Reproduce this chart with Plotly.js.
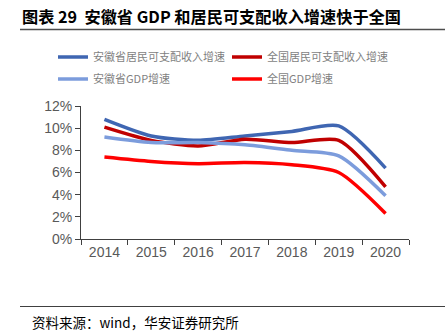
<!DOCTYPE html>
<html><head><meta charset="utf-8">
<script src="https://cdn.plot.ly/plotly-3.0.1.min.js"></script>
<style>html,body{margin:0;padding:0;background:#fff}#c{width:445px;height:333px}</style>
</head><body><div id="c"></div>
<script>
var years = ['2014','2015','2016','2017','2018','2019','2020'];
var anhuiIncome = [10.8, 9.3, 8.9, 9.3, 9.7, 10.2, 6.4];
var chinaIncome = [10.1, 8.9, 8.4, 9.0, 8.7, 8.9, 4.7];
var anhuiGDP = [9.2, 8.7, 8.7, 8.5, 8.0, 7.5, 3.9];
var chinaGDP = [7.4, 7.0, 6.8, 6.9, 6.7, 6.0, 2.3];
var names = ['安徽省居民可支配收入增速','全国居民可支配收入增速','安徽省GDP增速','全国GDP增速'];
var colors = ['#3F66B2','#C00000','#7C9CDC','#FF0000'];
var series = [anhuiIncome, chinaIncome, anhuiGDP, chinaGDP];
var legendIds = ['legend','legend2','legend3','legend4'];
var traces = series.map(function(s,i){
  return {x: years, y: s, type:'scatter', mode:'lines', name: names[i],
    line:{color:colors[i], width:3.5, shape:'spline', smoothing:0.7},
    legend: legendIds[i], hoverinfo:'skip'};
});
var W = 445, H = 333, L = 81, R = 36, T = 106, B = 94;
var pw = W - L - R, ph = H - T - B;
function px(x){ return (x - L) / pw; }
function py(y){ return (H - B - y) / ph; }
var legFont = {family:'Noto Sans CJK SC, sans-serif', size:11, color:'#7f7f7f'};
function leg(x, y){
  return {orientation:'v', x:px(x), xanchor:'left', y:py(y), yanchor:'middle',
    font:legFont, bgcolor:'rgba(0,0,0,0)', borderwidth:0};
}
var layout = {
  width:W, height:H,
  margin:{l:L, r:R, t:T, b:B},
  paper_bgcolor:'#fff', plot_bgcolor:'#fff',
  showlegend:true,
  legend: leg(53, 57), legend2: leg(227, 57), legend3: leg(53, 79), legend4: leg(227, 79),
  xaxis:{type:'category', range:[-0.5,6.5], tickson:'boundaries', ticks:'outside', ticklen:5,
    tickcolor:'#404040', showline:true, linecolor:'#404040', linewidth:1, showgrid:false, zeroline:false,
    tickfont:{family:'Liberation Sans, Arial, sans-serif', size:14, color:'#595959'}, fixedrange:true},
  yaxis:{range:[0,12], dtick:2, ticksuffix:'%', ticks:'outside', ticklen:5, tickcolor:'#404040',
    showline:true, linecolor:'#404040', linewidth:1, showgrid:false, zeroline:false,
    tickfont:{family:'Liberation Sans, Arial, sans-serif', size:14, color:'#595959'}, fixedrange:true},
  title:{text:'<b>图表 29  安徽省 GDP 和居民可支配收入增速快于全国</b>', x:22/W, xref:'container', xanchor:'left',
    y:1 - 17/H, yref:'container', yanchor:'middle', font:{family:'Noto Sans CJK SC, sans-serif', size:16.2, color:'#000'}},
  shapes:[
    {type:'line', xref:'paper', yref:'paper', layer:'above', x0:px(20), x1:px(445), y0:py(29.5), y1:py(29.5), line:{color:'#4d4d4d', width:1.5}},
    {type:'line', xref:'paper', yref:'paper', x0:px(20), x1:px(445), y0:py(306.5), y1:py(306.5), line:{color:'#404040', width:1}}
  ],
  annotations:[
    {text:'资料来源：wind，华安证券研究所', xref:'paper', yref:'paper', x:px(30), y:py(321.5),
     xanchor:'left', yanchor:'middle', showarrow:false, font:{family:'Noto Sans CJK SC, sans-serif', size:13.5, color:'#000'}}
  ]
};
Plotly.newPlot('c', traces, layout, {staticPlot:true, displayModeBar:false});
</script></body></html>
